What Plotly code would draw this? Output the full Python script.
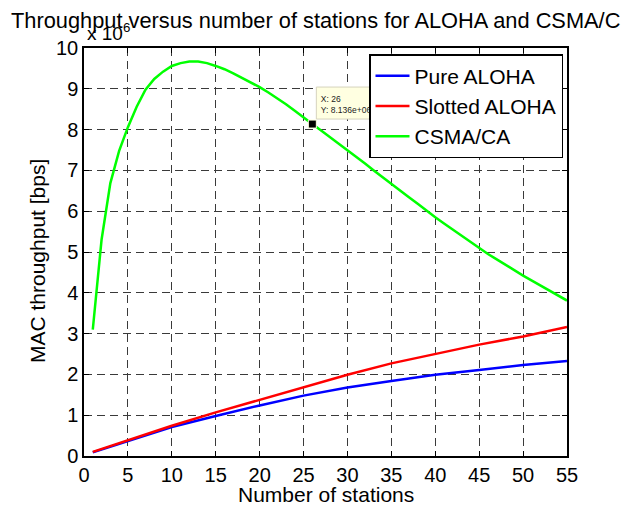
import plotly.graph_objects as go

# ---------------- data (throughput in units of 10^6 bps) ----------------
stations = list(range(1, 56))
csma_ca = [3.10, 5.30, 6.69, 7.48, 8.06, 8.56, 8.98, 9.24, 9.42, 9.56,
           9.63, 9.67, 9.67, 9.63, 9.56, 9.48, 9.38, 9.27, 9.16, 9.04,
           8.91, 8.77, 8.62, 8.46, 8.29, 8.136, 7.98, 7.82, 7.67, 7.51,
           7.34, 7.17, 7.00, 6.83, 6.66, 6.50, 6.34, 6.18, 6.01, 5.85,
           5.70, 5.55, 5.40, 5.24, 5.09, 4.95, 4.82, 4.68, 4.55, 4.42,
           4.30, 4.18, 4.06, 3.93, 3.81]

aloha_stations = [1, 5, 10, 15, 20, 25, 30, 35, 40, 45, 50, 55]
pure_aloha = [0.09, 0.37, 0.71, 0.98, 1.24, 1.48, 1.68, 1.84, 1.99, 2.11, 2.23, 2.33]
slotted_aloha = [0.10, 0.39, 0.74, 1.07, 1.38, 1.68, 1.99, 2.27, 2.50, 2.73, 2.93, 3.16]

x_ticks = list(range(0, 56, 5))
y_ticks = list(range(0, 11))

tip_station = 26
tip_i = stations.index(tip_station)
tip_x, tip_y = stations[tip_i], csma_ca[tip_i]

FONT = "Liberation Sans, Arial, Helvetica, sans-serif"

fig = go.Figure()
fig.add_trace(go.Scatter(x=aloha_stations, y=pure_aloha, mode="lines",
                         name="Pure ALOHA", line=dict(color="#0000ff", width=2.5)))
fig.add_trace(go.Scatter(x=aloha_stations, y=slotted_aloha, mode="lines",
                         name="Slotted ALOHA", line=dict(color="#ff0000", width=2.5)))
fig.add_trace(go.Scatter(x=stations, y=csma_ca, mode="lines",
                         name="CSMA/CA", line=dict(color="#00ff00", width=2.5)))

# data tip
fig.add_trace(go.Scatter(
    x=[tip_x], y=[tip_y], mode="markers+text",
    marker=dict(size=12, opacity=0),
    text=[f"X: {tip_x}<br>Y: {tip_y * 1e6:.3e}"],
    textposition="top right",
    textfont=dict(size=8.5, color="#222222", family=FONT),
    showlegend=False, hoverinfo="skip"))
fig.add_trace(go.Scatter(
    x=[tip_x], y=[tip_y], mode="markers",
    marker=dict(symbol="square", size=8, color="black",
                line=dict(color="#ffffe0", width=1)),
    showlegend=False, hoverinfo="skip"))

fig.add_shape(type="rect", xref="x", yref="y", xsizemode="pixel", ysizemode="pixel",
              xanchor=tip_x, yanchor=tip_y, x0=4, x1=80, y0=5, y1=37,
              fillcolor="#ffffe1", line=dict(color="#d6d3bd", width=1), layer="between")

axis_common = dict(
    showline=True, linecolor="black", linewidth=1.5, mirror="ticks",
    ticks="inside", ticklen=5, tickwidth=1, tickcolor="black",
    showgrid=True, gridcolor="#3a3a3a", gridwidth=1, griddash="8px,5px",
    zeroline=False, tickfont=dict(size=20, color="black", family=FONT),
)
fig.update_xaxes(range=[0, 55], tickvals=x_ticks, ticktext=[str(v) for v in x_ticks], **axis_common)
fig.update_yaxes(range=[0, 10], tickvals=y_ticks, ticktext=[str(v) for v in y_ticks], **axis_common)

fig.update_layout(
    width=628, height=508,
    margin=dict(l=84, r=61, t=48, b=52, autoexpand=False),
    paper_bgcolor="white", plot_bgcolor="white",
    font=dict(family=FONT, color="black"),
    title=dict(text="Throughput versus number of stations for ALOHA and CSMA/C",
               xref="container", yref="container", x=11 / 628, xanchor="left",
               y=1 - 20 / 508, yanchor="middle",
               font=dict(size=21.8, color="black", family=FONT)),
    legend=dict(x=(563 - 84) / 483, xanchor="right", y=1 - (54 - 48) / 408, yanchor="top",
                bgcolor="white", bordercolor="black", borderwidth=1.5, itemwidth=34,
                font=dict(size=21, color="black", family=FONT), tracegroupgap=0),
    annotations=[
        dict(text="x 10<sup>6</sup>", xref="paper", yref="paper",
             x=(85 - 84) / 483, xanchor="left", y=(456 - 46) / 408, yanchor="bottom",
             showarrow=False, font=dict(size=19, color="black", family=FONT)),
        dict(text="Number of stations", xref="paper", yref="paper",
             x=0.5, xanchor="center", y=(456 - 494) / 408, yanchor="middle",
             showarrow=False, font=dict(size=21, color="black", family=FONT)),
        dict(text="MAC throughput [bps]", xref="paper", yref="paper", textangle=-90,
             x=(37 - 84) / 483, xanchor="center", y=(456 - 261) / 408, yanchor="middle",
             showarrow=False, font=dict(size=21, color="black", family=FONT)),
    ],
    showlegend=True,
)

fig.write_html("out.html", config={"displayModeBar": False},
               post_script="document.body.style.margin='0';")
